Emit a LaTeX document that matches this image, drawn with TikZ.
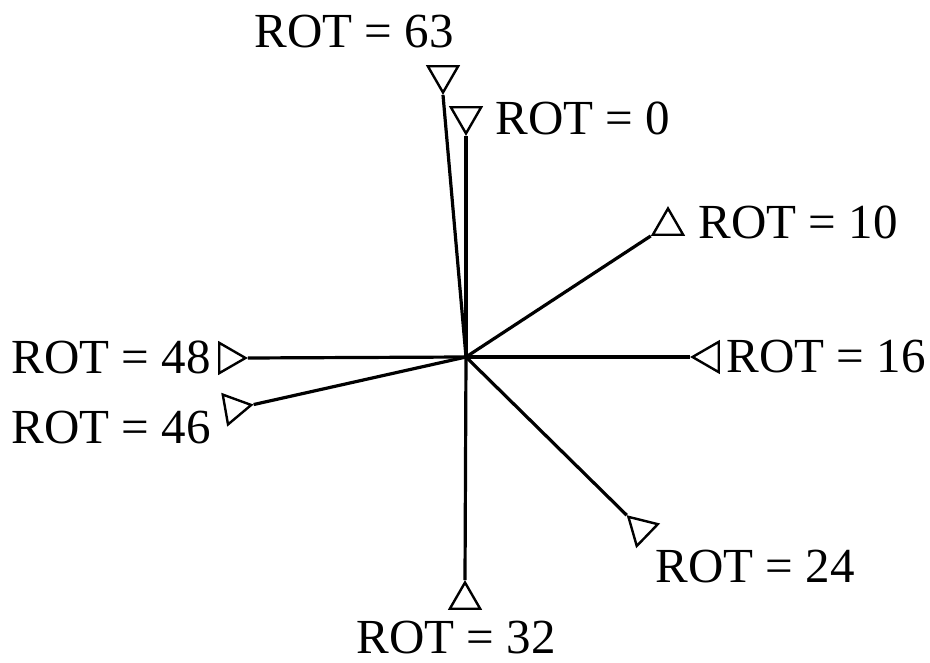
\documentclass[tikz,border=0pt]{standalone}
\usepackage{fontspec}
\setmainfont{Liberation Serif}
\usetikzlibrary{shapes.geometric}

\begin{document}
\begin{tikzpicture}[x=1pt, y=-1pt,
    tri/.style={draw, regular polygon, regular polygon sides=3,
                minimum size=35pt, inner sep=0pt, line width=2.4pt},
    arm/.style={line width=3.2pt},
    rot/.style={font=\fontsize{49}{52}\selectfont, inner sep=0pt}
]
    \useasboundingbox (0,0) rectangle (930,663);
    \coordinate (o) at (466,357);
    % markers at the arm ends
    \node [tri, shape border rotate=180] (t63) at (443,75) {};
    \node [tri, shape border rotate=180] (t0) at (466,116) {};
    \node [tri] (t10) at (668,226) {};
    \node [tri, shape border rotate=90] (t16) at (710,357) {};
    \node [tri, shape border rotate=46] (t24) at (641,529) {};
    \node [tri] (t32) at (465,600) {};
    \node [tri, shape border rotate=-90] (t48) at (228,358) {};
    \node [tri, shape border rotate=-80] (t46) at (234,408) {};
    % arms
    \draw [arm] (o) -- (t63.corner 1);
    \draw [arm] (o) -- (t0.corner 1);
    \draw [arm] (o) -- (t10.corner 2);
    \draw [arm] (o) -- (t16.corner 1);
    \draw [arm] (o) -- (t24.corner 1);
    \draw [arm] (o) -- (t32.corner 1);
    \draw [arm] (o) -- (t48.corner 1);
    \draw [arm] (o) -- (t46.corner 1);
    % labels
    \node [rot] (l63) at (354,32) {ROT = 63};
    \node [rot] (l0) at (583,118) {ROT = 0};
    \node [rot] (l10) at (798,222) {ROT = 10};
    \node [rot] (l16) at (826,357) {ROT = 16};
    \node [rot] (l48) at (111,357) {ROT = 48};
    \node [rot] (l46) at (111,428) {ROT = 46};
    \node [rot] (l24) at (755,567) {ROT = 24};
    \node [rot] (l32) at (456,638) {ROT = 32};
\end{tikzpicture}
\end{document}
